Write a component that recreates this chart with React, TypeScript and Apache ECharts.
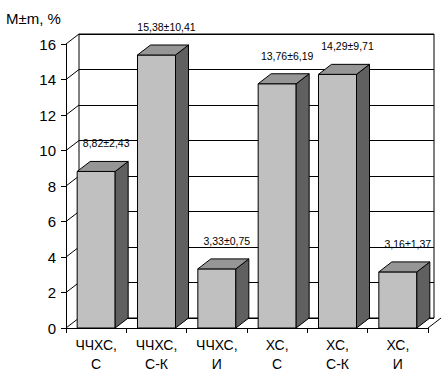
import React, { useEffect, useRef } from "react";
import * as echarts from "echarts";

const categories = ["ЧЧХС,\nС", "ЧЧХС,\nС-К", "ЧЧХС,\nИ", "ХС,\nС", "ХС,\nС-К", "ХС,\nИ"];
const means = [8.82, 15.38, 3.33, 13.76, 14.29, 3.16];
const errors = [2.43, 10.41, 0.75, 6.19, 9.71, 1.37];
const yTicks = [0, 2, 4, 6, 8, 10, 12, 14, 16];
const yTitle = "M±m, %";

const DX = 13;
const DY = -10;
const FONT = "'Liberation Sans', Arial, sans-serif";

const fmt = (v: number) => v.toFixed(2).replace(".", ",");

export default function App() {
  const ref = useRef<HTMLDivElement>(null);
  useEffect(() => {
    if (!ref.current) return;
    const chart = echarts.init(ref.current, undefined, { renderer: "svg" });
    const labels = means.map((m, i) => `${fmt(m)}±${fmt(errors[i])}`);
    chart.setOption({
      animation: false,
      backgroundColor: "#fff",
      title: {
        text: yTitle,
        left: 6,
        top: 11,
        padding: 0,
        textStyle: { fontFamily: FONT, fontSize: 15, fontWeight: "normal", color: "#000" },
      },
      grid: [
        { left: 66, right: 20, top: 44, bottom: 53 },
        { left: 66 + DX, right: 20 - DX + 7, top: 44 + DY, bottom: 53 - DY, show: true, borderColor: "#000", borderWidth: 1, backgroundColor: "transparent" },
      ],
      xAxis: [
        {
          type: "category",
          gridIndex: 0,
          data: categories,
          axisLine: { lineStyle: { color: "#000", width: 1 } },
          axisTick: { show: true, length: 5, lineStyle: { color: "#000" } },
          axisLabel: { color: "#000", fontFamily: FONT, fontSize: 14, lineHeight: 19, margin: 7 },
        },
        {
          type: "category",
          gridIndex: 1,
          data: categories,
          show: false,
        },
      ],
      yAxis: [
        {
          type: "value",
          gridIndex: 0,
          min: 0,
          max: 16,
          interval: 2,
          axisLine: { show: true, lineStyle: { color: "#000", width: 1 } },
          axisTick: { show: true, length: 5, lineStyle: { color: "#000" } },
          axisLabel: { color: "#000", fontFamily: FONT, fontSize: 15, margin: 10 },
          splitLine: { show: false },
        },
        {
          type: "value",
          gridIndex: 1,
          min: 0,
          max: 16,
          interval: 2,
          axisLine: { show: false },
          axisTick: { show: false },
          axisLabel: { show: false },
          splitLine: { show: true, lineStyle: { color: "#000", width: 1 } },
        },
      ],
      series: [
        {
          type: "custom",
          xAxisIndex: 0,
          yAxisIndex: 0,
          data: yTicks.map((v) => [0, v]),
          z: 1,
          silent: true,
          renderItem: (params: any, api: any) => {
            const v = api.value(1);
            const p = api.coord([0, v]);
            const w = api.size([1, 0])[0];
            const xl = p[0] - w / 2;
            const children: any[] = [
              { type: "line", shape: { x1: xl, y1: p[1], x2: xl + DX, y2: p[1] + DY }, style: { stroke: "#000", lineWidth: 1 } },
            ];
            if (v === 0) {
              const pr = api.coord([categories.length - 1, 0]);
              const xr = pr[0] + w / 2;
              children.push({ type: "line", shape: { x1: xr, y1: pr[1], x2: xr + DX, y2: pr[1] + DY }, style: { stroke: "#000", lineWidth: 1 } });
            }
            return { type: "group", children };
          },
        },
        {
          type: "custom",
          xAxisIndex: 0,
          yAxisIndex: 0,
          data: means.map((m, i) => [i, m]),
          z: 5,
          silent: true,
          renderItem: (params: any, api: any) => {
            const i = api.value(0);
            const v = api.value(1);
            const top = api.coord([i, v]);
            const base = api.coord([i, 0]);
            const w = api.size([1, 0])[0];
            const bw = w * 0.63;
            const xl = top[0] - bw / 2;
            const xr = top[0] + bw / 2;
            const yt = top[1];
            const yb = base[1];
            const line = { stroke: "#000", lineWidth: 1 };
            return {
              type: "group",
              children: [
                { type: "rect", shape: { x: xl, y: yt, width: bw, height: yb - yt }, style: { fill: "#c0c0c0", ...line } },
                {
                  type: "polygon",
                  shape: { points: [[xr, yt], [xr + DX, yt + DY], [xr + DX, yb + DY], [xr, yb]] },
                  style: { fill: "#606060", ...line },
                },
                {
                  type: "polygon",
                  shape: { points: [[xl, yt], [xr, yt], [xr + DX, yt + DY], [xl + DX, yt + DY]] },
                  style: { fill: "#969696", ...line },
                },
                {
                  type: "text",
                  x: top[0] + 10,
                  y: yt + DY - 18,
                  style: {
                    text: labels[i],
                    fill: "#000",
                    font: `10.5px ${FONT}`,
                    textAlign: "center",
                    textVerticalAlign: "middle",
                  },
                },
              ],
            };
          },
        },
      ],
    });
    return () => chart.dispose();
  }, []);
  return <div ref={ref} style={{ width: 448, height: 381, position: "absolute", left: 0, top: 0 }} />;
}
